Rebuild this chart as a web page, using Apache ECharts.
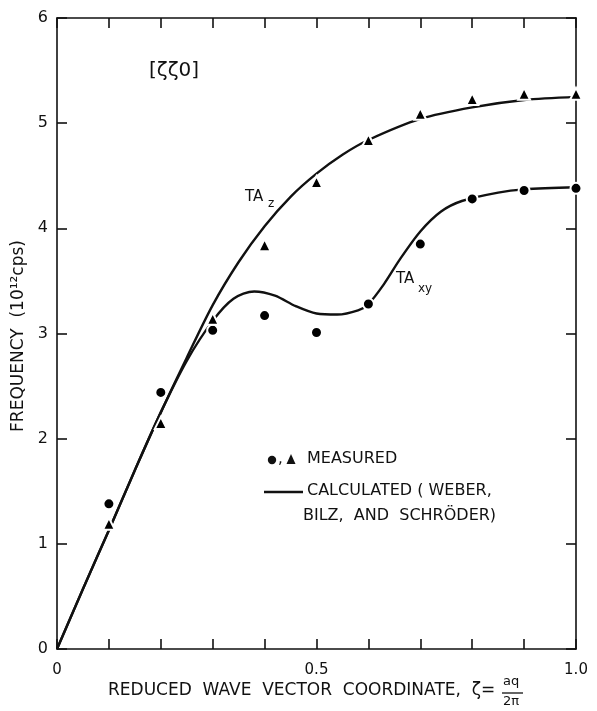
<!DOCTYPE html>
<html>
<head>
<meta charset="utf-8">
<script src="https://cdn.jsdelivr.net/npm/echarts@6/dist/echarts.min.js"></script>
<style>
html,body{margin:0;padding:0;background:#fff;}
#c{width:597px;height:711px;}
</style>
</head>
<body>
<div id="c"></div>
<script>
// Measured points (reduced wave vector ζ)
var zeta = [0.1, 0.2, 0.3, 0.4, 0.5, 0.6, 0.7, 0.8, 0.9, 1.0];
var measuredTAxy = [1.38, 2.44, 3.03, 3.17, 3.01, 3.28, 3.85, 4.28, 4.36, 4.38];
var measuredTAz  = [1.19, 2.15, 3.14, 3.84, 4.44, 4.84, 5.09, 5.23, 5.28, 5.28];

// Calculated curves (Weber, Bilz, and Schröder)
var calcTAzX = [0, 0.05, 0.1, 0.15, 0.2, 0.25, 0.3, 0.35, 0.4, 0.45, 0.5, 0.55, 0.6, 0.7, 0.8, 0.9, 1.0];
var calcTAzY = [0, 0.57, 1.13, 1.70, 2.25, 2.77, 3.27, 3.68, 4.02, 4.30, 4.52, 4.70, 4.84, 5.04, 5.15, 5.22, 5.25];
var calcTAxyX = [0, 0.05, 0.1, 0.15, 0.2, 0.25, 0.3, 0.34, 0.38, 0.42, 0.46, 0.5, 0.54, 0.58, 0.6, 0.63, 0.66, 0.7, 0.74, 0.78, 0.85, 0.9, 1.0];
var calcTAxyY = [0, 0.57, 1.13, 1.70, 2.25, 2.74, 3.12, 3.33, 3.40, 3.36, 3.26, 3.19, 3.18, 3.22, 3.28, 3.47, 3.70, 3.97, 4.16, 4.26, 4.34, 4.37, 4.39];

var xTickLabels = ['0', '0.5', '1.0'];
var yTickLabels = ['0', '1', '2', '3', '4', '5', '6'];

function pairs(xs, ys) { return xs.map(function (x, i) { return [x, ys[i]]; }); }

var FONT = 'DejaVu Sans';
var chart = echarts.init(document.getElementById('c'), null, {renderer: 'canvas'});

function axisBase() {
  return {
    type: 'value',
    axisLine: {show: true, onZero: false, lineStyle: {color: '#111', width: 1.6}},
    axisTick: {show: true, inside: true, length: 10, lineStyle: {color: '#111', width: 1.6}},
    splitLine: {show: false}
  };
}

function xLab(v) {
  for (var i = 0; i < xTickLabels.length; i++) {
    if (Math.abs(v - parseFloat(xTickLabels[i])) < 1e-6) return xTickLabels[i];
  }
  return '';
}

var option = {
  backgroundColor: '#fff',
  animation: false,
  grid: {left: 57, right: 21, top: 18, bottom: 62},
  xAxis: [
    Object.assign(axisBase(), {
      min: 0, max: 1, interval: 0.1, position: 'bottom',
      axisLabel: {show: true, formatter: xLab, margin: 14, color: '#111', fontFamily: FONT, fontSize: 15, showMinLabel: true, showMaxLabel: true}
    }),
    Object.assign(axisBase(), {
      min: 0, max: 1, interval: 0.1, position: 'top',
      axisLabel: {show: false}
    })
  ],
  yAxis: [
    Object.assign(axisBase(), {
      min: 0, max: 6, interval: 1, position: 'left',
      axisLabel: {show: true, margin: 9, color: '#111', fontFamily: FONT, fontSize: 16,
        formatter: function (v) { return yTickLabels[Math.round(v)]; }}
    }),
    Object.assign(axisBase(), {
      min: 0, max: 6, interval: 1, position: 'right',
      axisLabel: {show: false}
    })
  ],
  series: [
    {
      type: 'line', data: pairs(calcTAzX, calcTAzY), smooth: 0.3, showSymbol: false,
      lineStyle: {color: '#111', width: 2.4}, z: 2
    },
    {
      type: 'line', data: pairs(calcTAxyX, calcTAxyY), smooth: 0.3, showSymbol: false,
      lineStyle: {color: '#111', width: 2.4}, z: 2
    },
    {
      type: 'scatter', data: pairs(zeta, measuredTAxy), symbol: 'circle', symbolSize: 11,
      itemStyle: {color: '#000', opacity: 1, borderColor: '#fff', borderWidth: 2}, z: 5
    },
    {
      type: 'scatter', data: pairs(zeta, measuredTAz), symbol: 'triangle', symbolSize: 12,
      itemStyle: {color: '#000', opacity: 1, borderColor: '#fff', borderWidth: 2}, z: 5
    }
  ],
  graphic: [
    {type: 'text', left: 149, top: 61, style: {text: '[ζζ0]', font: '20px "DejaVu Sans"', fill: '#111'}},
    {type: 'text', left: 245, top: 190, style: {text: 'TA', font: '15px "DejaVu Sans"', fill: '#111'}},
    {type: 'text', left: 268, top: 198, style: {text: 'z', font: '12px "DejaVu Sans"', fill: '#111'}},
    {type: 'text', left: 396, top: 272, style: {text: 'TA', font: '15px "DejaVu Sans"', fill: '#111'}},
    {type: 'text', left: 418, top: 283, style: {text: 'xy', font: '12px "DejaVu Sans"', fill: '#111'}},
    // legend
    {type: 'circle', shape: {cx: 272, cy: 460, r: 4.2}, style: {fill: '#111'}},
    {type: 'text', left: 278, top: 452, style: {text: ',', font: '15px "DejaVu Sans"', fill: '#111'}},
    {type: 'polygon', shape: {points: [[291, 454], [286.5, 464], [295.5, 464]]}, style: {fill: '#111'}},
    {type: 'text', left: 307, top: 451, style: {text: 'MEASURED', font: '16px "DejaVu Sans"', fill: '#111'}},
    {type: 'line', shape: {x1: 264, y1: 492, x2: 303, y2: 492}, style: {stroke: '#111', lineWidth: 2.4}},
    {type: 'text', left: 307, top: 483, style: {text: 'CALCULATED ( WEBER,', font: '16px "DejaVu Sans"', fill: '#111'}},
    {type: 'text', left: 303, top: 508, style: {text: 'BILZ,  AND  SCHRÖDER)', font: '16px "DejaVu Sans"', fill: '#111'}},
    // x axis name
    {type: 'text', left: 108, top: 682, style: {text: 'REDUCED  WAVE  VECTOR  COORDINATE,  ζ=', font: '17px "DejaVu Sans"', fill: '#111'}},
    {type: 'text', left: 503, top: 675, style: {text: 'aq', font: '13px "DejaVu Sans"', fill: '#111'}},
    {type: 'line', shape: {x1: 502, y1: 693, x2: 523, y2: 693}, style: {stroke: '#111', lineWidth: 1.3}},
    {type: 'text', left: 503, top: 695, style: {text: '2π', font: '13px "DejaVu Sans"', fill: '#111'}},
    // y axis name
    {type: 'text', x: 19, y: 336, rotation: Math.PI / 2,
      style: {text: 'FREQUENCY  (10¹²cps)', font: '17px "DejaVu Sans"', fill: '#111', align: 'center', verticalAlign: 'middle'}}
  ]
};
chart.setOption(option);
</script>
</body>
</html>
